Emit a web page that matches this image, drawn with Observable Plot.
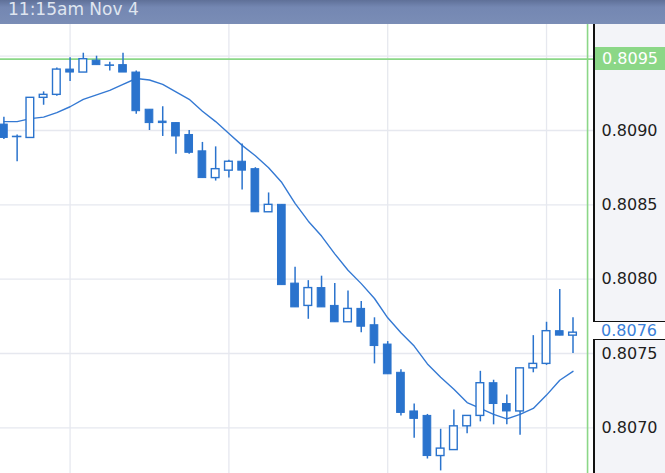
<!DOCTYPE html>
<html><head><meta charset="utf-8">
<script src="https://cdn.jsdelivr.net/npm/d3@7"></script>
<script src="https://cdn.jsdelivr.net/npm/@observablehq/plot@0.6"></script>
<style>
html,body{margin:0;padding:0;background:#fff;}
#wrap{position:relative;width:665px;height:473px;overflow:hidden;font-family:"DejaVu Sans",sans-serif;}
#hdr{position:absolute;left:0;top:0;width:665px;height:24px;background:linear-gradient(#5f7098,#7487b2 30%,#7a8db6);}
#hdr span{position:absolute;left:8px;top:1px;font-size:17px;line-height:17px;color:#dfe5ef;white-space:nowrap;}
#main{position:absolute;left:0;top:24px;width:665px;height:449px;}
#panel{position:absolute;left:594px;top:0;width:71px;height:449px;background:#f3f4f8;}
#main svg{position:absolute;left:0;top:0;}
.ov{position:absolute;box-sizing:border-box;}
</style></head><body>
<div id="wrap"><div id="hdr"><span id="title"></span></div><div id="main"><div id="panel"></div></div></div>
<script>
const titleText = "11:15am Nov 4";
const open  = [.80904,.80896,.80895,.80922,.80924,.80941,.80939,.80947,.80944,.80944,.80939,.80914,.80906,.80905,.80897,.80886,.80868,.80873,.80879,.80874,.80845,.80850,.80797,.80782,.80794,.80782,.80771,.80780,.80769,.80756,.80737,.80711,.80708,.80681,.80685,.80701,.80708,.80730,.80716,.80711,.80740,.80743,.80765,.80762];
const high  = [.80909,.80897,.80922,.80926,.80942,.80949,.80952,.80950,.80946,.80952,.80940,.80914,.80916,.80905,.80900,.80892,.80889,.80880,.80891,.80875,.80858,.80850,.80808,.80799,.80802,.80797,.80792,.80785,.80774,.80758,.80739,.80716,.80709,.80699,.80712,.80708,.80738,.80732,.80722,.80740,.80762,.80771,.80793,.80774];
const low   = [.80894,.80879,.80895,.80917,.80923,.80933,.80939,.80944,.80940,.80939,.80911,.80900,.80896,.80884,.80884,.80868,.80866,.80868,.80860,.80845,.80845,.80796,.80781,.80773,.80781,.80771,.80771,.80764,.80743,.80736,.80708,.80693,.80679,.80671,.80685,.80696,.80704,.80702,.80702,.80695,.80737,.80742,.80762,.80750];
const close = [.80895,.80896,.80922,.80924,.80941,.80939,.80948,.80944,.80944,.80939,.80913,.80905,.80905,.80896,.80885,.80868,.80874,.80879,.80873,.80845,.80850,.80796,.80781,.80794,.80781,.80771,.80780,.80768,.80755,.80736,.80710,.80706,.80681,.80686,.80701,.80708,.80730,.80716,.80711,.80740,.80743,.80765,.80762,.80764];
const ma    = [.80906,.80906,.80908,.80909,.80912,.80916,.80921,.80924,.80927,.80931,.80935,.80934,.80931,.80926,.80921,.80913,.80906,.80898,.80890,.80883,.80875,.80865,.80851,.80839,.80829,.80817,.80806,.80797,.80787,.80774,.80764,.80755,.80743,.80734,.80726,.80717,.80713,.80709,.80706,.80709,.80713,.80722,.80732,.80738];
const gridLevels = [0.8070,0.8075,0.8080,0.8085,0.8090,0.8095];
const axisLabels = [0.8070,0.8075,0.8080,0.8085,0.8090];
const timeGrid = [5,17,29,41];
const sessionHigh = [0.80948];
const cursorIndex = [44.1];

document.getElementById("title").textContent = titleText;

const candles = open.map((o,i)=>({i, open:o, high:high[i], low:low[i], close:close[i]}));
const maData = ma.map((v,i)=>({i, v}));
const blue = "#2a73cd", green = "#8bd787", grid = "#e6e8ef";
const fmt = d3.format(".4f");

const plot = Plot.plot({
  width:665, height:449, marginTop:0, marginBottom:0, marginLeft:0, marginRight:71,
  style:{background:"transparent", fontFamily:"DejaVu Sans", fontSize:"16px", color:"#1e1e1e", overflow:"visible"},
  x:{domain:[0,43], range:[3.4,572.5], axis:null},
  y:{domain:[0.8070,0.8095], range:[403.3,31.7], axis:"right", ticks:axisLabels, tickFormat:fmt, tickSize:0, tickPadding:7, label:null},
  marks:[
    Plot.ruleY(gridLevels,{stroke:grid, strokeWidth:1.3}),
    Plot.ruleX(timeGrid,{stroke:grid, strokeWidth:1.3}),
    Plot.ruleY(sessionHigh,{stroke:green, strokeWidth:1.6}),
    Plot.ruleX(cursorIndex,{stroke:green, strokeWidth:1.6}),
    Plot.line(maData,{x:"i", y:"v", stroke:"#3479d3", strokeWidth:1.4}),
    Plot.ruleX(candles,{x:"i", y1:"low", y2:"high", stroke:blue, strokeWidth:1.5}),
    Plot.rect(candles,{filter:d=>d.close<d.open, x1:d=>d.i-0.29, x2:d=>d.i+0.29, y1:"open", y2:"close", fill:blue, stroke:blue, strokeWidth:1}),
    Plot.rect(candles,{filter:d=>d.close>d.open, x1:d=>d.i-0.29, x2:d=>d.i+0.29, y1:"open", y2:"close", fill:"white", stroke:blue, strokeWidth:1.4}),
    Plot.ruleY(candles,{filter:d=>Math.abs(d.close-d.open)<0.000005, y:"close", x1:d=>d.i-0.36, x2:d=>d.i+0.36, stroke:blue, strokeWidth:1.6})
  ]
});
const main = document.getElementById("main");
main.appendChild(plot);

const ys = plot.scale("y");
function ov(css, text){
  const d = document.createElement("div");
  d.className = "ov";
  Object.assign(d.style, css);
  if (text) d.textContent = text;
  main.appendChild(d);
  return d;
}
const yHi = ys.apply(sessionHigh[0]);
ov({left:"594.5px", top:(yHi-11.7)+"px", width:"70.5px", height:"23.4px", background:green, color:"#fff", fontSize:"16px", lineHeight:"23.4px", paddingLeft:"7.5px"}, fmt(sessionHigh[0]));

const last = close[close.length-1];
const yLast = ys.apply(last) - 1.5;
const gTop = yLast - 9, gBot = yLast + 9;
ov({left:"594px", top:gTop+"px", width:"71px", height:(gBot-gTop)+"px", background:"#fff", color:"#3a80d8", fontSize:"16px", lineHeight:(gBot-gTop)+"px", paddingLeft:"7px"}, fmt(last));
ov({left:"593.3px", top:"0px", width:"1.5px", height:gTop+"px", background:"#111"});
ov({left:"593.3px", top:gBot+"px", width:"1.5px", height:(449-gBot)+"px", background:"#111"});
ov({left:"593.3px", top:(gTop-0.75)+"px", width:"72px", height:"1.5px", background:"#111"});
ov({left:"593.3px", top:(gBot-0.75)+"px", width:"72px", height:"1.5px", background:"#111"});
</script>
</body></html>
